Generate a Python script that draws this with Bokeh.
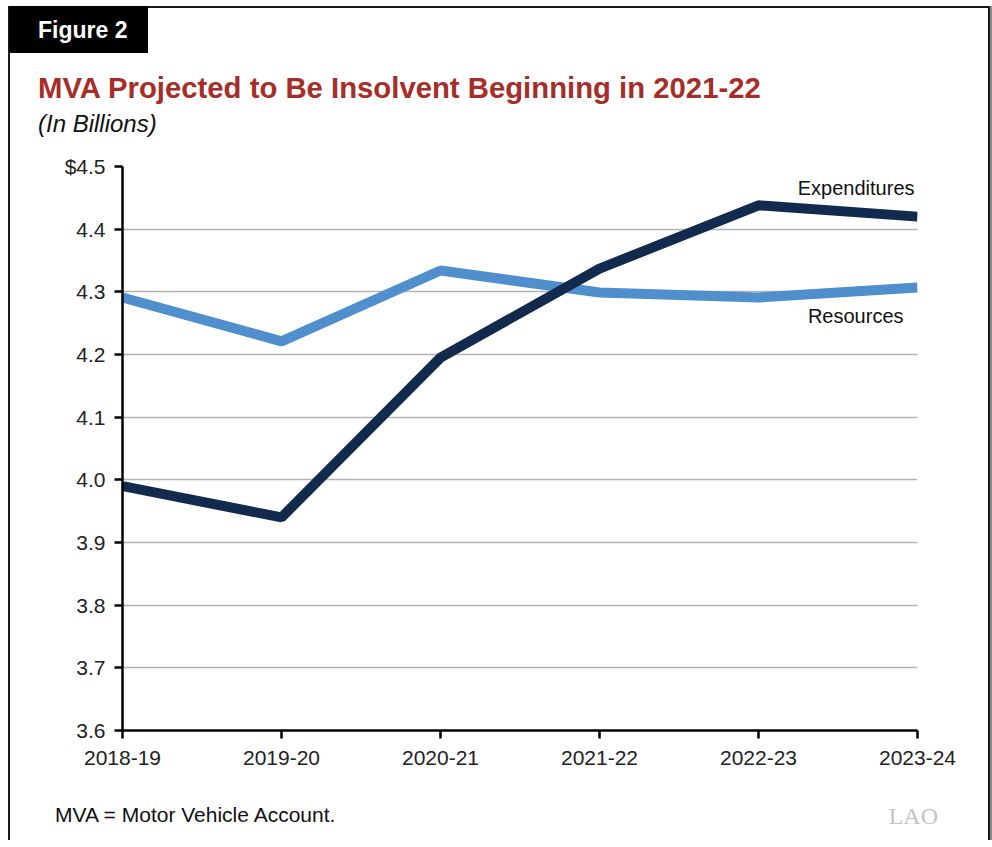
from bokeh.plotting import figure
from bokeh.models import FixedTicker, Label, Div
from bokeh.layouts import column
from bokeh.embed import file_html
from bokeh.resources import INLINE

years = ["2018-19", "2019-20", "2020-21", "2021-22", "2022-23", "2023-24"]
expenditures = [3.99, 3.94, 4.195, 4.337, 4.438, 4.42]
resources = [4.291, 4.221, 4.334, 4.299, 4.291, 4.307]
y_ticks = [3.6, 3.7, 3.8, 3.9, 4.0, 4.1, 4.2, 4.3, 4.4, 4.5]
y_tick_labels = ["3.6", "3.7", "3.8", "3.9", "4.0", "4.1", "4.2", "4.3", "4.4", "$4.5"]

FONT = "Liberation Sans"
W = 978
x_idx = list(range(len(years)))

header = Div(width=W, height=140, margin=0, text=f"""
<div style="position:relative;width:{W}px;height:140px;font-family:'{FONT}';">
  <div style="position:absolute;left:-1px;top:-2px;width:139px;height:47px;background:#000;"></div>
  <div style="position:absolute;left:28px;top:22px;transform:translateY(-50%);color:#fff;font-weight:bold;font-size:23px;white-space:nowrap;">Figure 2</div>
  <div style="position:absolute;left:28px;top:80px;transform:translateY(-50%);color:#a62e28;font-weight:bold;font-size:29.3px;white-space:nowrap;">MVA Projected to Be Insolvent Beginning in 2021-22</div>
  <div style="position:absolute;left:28px;top:116px;transform:translateY(-50%);color:#111;font-style:italic;font-size:24px;white-space:nowrap;">(In Billions)</div>
</div>""")

footer = Div(width=W, height=50, margin=0, text=f"""
<div style="position:relative;width:{W}px;height:50px;font-family:'{FONT}';">
  <div style="position:absolute;left:45px;top:25px;transform:translateY(-50%);color:#111;font-size:21px;white-space:nowrap;">MVA = Motor Vehicle Account.</div>
  <div style="position:absolute;right:50px;top:26px;transform:translateY(-50%);color:#c4c4c4;font-family:'Liberation Serif';font-size:24px;white-space:nowrap;">LAO</div>
</div>""")

p = figure(width=W, height=642, output_backend="svg", toolbar_location=None, margin=0,
           x_range=(0, len(years) - 1), y_range=(3.6, 4.5),
           min_border_left=112, min_border_right=71, min_border_top=18, min_border_bottom=60)
p.outline_line_color = None
p.background_fill_color = "white"
p.border_fill_color = "white"

p.xaxis.ticker = FixedTicker(ticks=x_idx)
p.xaxis.major_label_overrides = {i: y for i, y in zip(x_idx, years)}
p.yaxis.ticker = FixedTicker(ticks=y_ticks)
p.yaxis.major_label_overrides = {t: l for t, l in zip(y_ticks, y_tick_labels)}
for ax in (p.xaxis, p.yaxis):
    ax.axis_line_color = "black"
    ax.axis_line_width = 2.5
    ax.major_tick_line_color = "black"
    ax.major_tick_line_width = 2.5
    ax.major_tick_out = 8
    ax.major_tick_in = 0
    ax.minor_tick_line_color = None
    ax.major_label_text_font = FONT
    ax.major_label_text_font_size = "21px"
    ax.major_label_text_color = "#222222"
p.yaxis.major_label_standoff = 9
p.xaxis.major_label_standoff = 12

p.xgrid.grid_line_color = None
p.ygrid.grid_line_color = "#b3b3b3"
p.ygrid.grid_line_width = 1.5
p.ygrid.ticker = FixedTicker(ticks=y_ticks)

p.line(x_idx, resources, line_color="#4f8fcd", line_width=10)
p.line(x_idx, expenditures, line_color="#112a4d", line_width=10)

p.add_layout(Label(x=x_idx[-1], y=4.465, text="Expenditures", text_align="right", x_offset=-3,
                   text_baseline="middle", text_font=FONT, text_font_size="20px", text_color="#111111"))
p.add_layout(Label(x=x_idx[-1], y=4.262, text="Resources", text_align="right", x_offset=-14,
                   text_baseline="middle", text_font=FONT, text_font_size="20px", text_color="#111111"))

layout = column(header, p, footer, margin=(6, 0, 0, 8), spacing=0,
                styles={"border-top": "2px solid #1a1a1a", "border-left": "2px solid #1a1a1a",
                        "border-right": "2px solid #1a1a1a", "box-shadow": "2px 0 0 #888"})

open("out.html", "w").write(file_html(layout, INLINE))
